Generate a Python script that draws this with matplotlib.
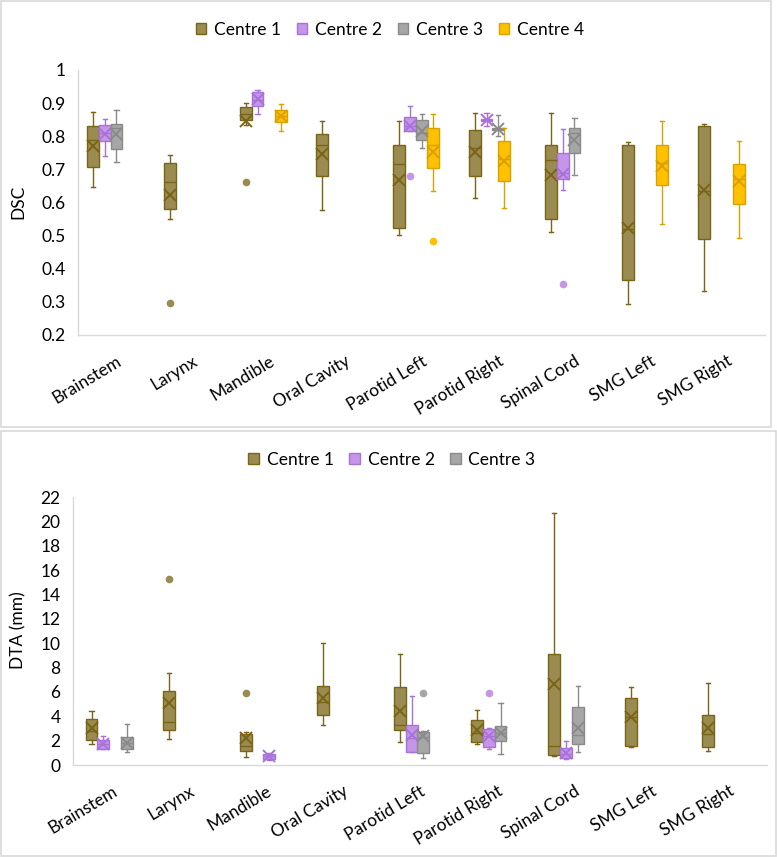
import matplotlib
matplotlib.use("Agg")
import matplotlib.pyplot as plt
from matplotlib.patches import Patch, Rectangle

plt.rcParams["font.family"] = ["Lato", "DejaVu Sans"]

ORGANS = ["Brainstem", "Larynx", "Mandible", "Oral Cavity", "Parotid Left",
          "Parotid Right", "Spinal Cord", "SMG Left", "SMG Right"]
CENTRES = ["Centre 1", "Centre 2", "Centre 3", "Centre 4"]

# box stats per organ: (whisker low, q1, median, q3, whisker high, mean), None = no data
dsc_c1 = [(0.647, 0.707, 0.789, 0.830, 0.873, 0.771),
          (0.551, 0.580, 0.661, 0.719, 0.742, 0.624),
          (0.835, 0.848, 0.867, 0.888, 0.900, 0.845),
          (0.577, 0.679, 0.773, 0.808, 0.845, 0.746),
          (0.501, 0.522, 0.716, 0.774, 0.845, 0.667),
          (0.614, 0.679, 0.765, 0.819, 0.870, 0.751),
          (0.512, 0.551, 0.729, 0.774, 0.870, 0.684),
          (0.293, 0.365, 0.520, 0.774, 0.783, 0.522),
          (0.332, 0.489, 0.635, 0.830, 0.837, 0.639)]
dsc_c2 = [(0.741, 0.786, 0.810, 0.834, 0.852, 0.807),
          None,
          (0.867, 0.890, 0.910, 0.933, 0.940, 0.912),
          None,
          (0.815, 0.815, 0.830, 0.859, 0.892, 0.830),
          (0.830, 0.845, 0.848, 0.852, 0.870, 0.848),
          (0.639, 0.672, 0.690, 0.749, 0.822, 0.686),
          None,
          None]
dsc_c3 = [(0.723, 0.762, 0.825, 0.837, 0.878, 0.807),
          None, None, None,
          (0.765, 0.789, 0.810, 0.848, 0.867, 0.817),
          (0.800, 0.818, 0.822, 0.826, 0.865, 0.822),
          (0.683, 0.749, 0.810, 0.826, 0.855, 0.789),
          None, None]
dsc_c4 = [None, None,
          (0.815, 0.843, 0.860, 0.878, 0.897, 0.860),
          None,
          (0.636, 0.704, 0.774, 0.826, 0.867, 0.753),
          (0.584, 0.664, 0.730, 0.786, 0.825, 0.724),
          None,
          (0.534, 0.653, 0.720, 0.774, 0.845, 0.709),
          (0.494, 0.595, 0.670, 0.716, 0.786, 0.664)]
dsc_c1_out = [[], [0.296], [0.661], [], [], [], [], [], []]
dsc_c2_out = [[], [], [], [], [0.679], [], [0.355], [], []]
dsc_c3_out = [[] for _ in ORGANS]
dsc_c4_out = [[], [], [], [], [0.483], [], [], [], []]

dta_c1 = [(1.70, 2.05, 2.80, 3.80, 4.43, 3.01),
          (2.11, 2.87, 3.50, 6.10, 7.53, 5.12),
          (0.68, 1.15, 1.60, 2.52, 2.68, 2.19),
          (3.28, 4.08, 5.20, 6.49, 9.99, 5.47),
          (1.91, 2.87, 3.28, 6.38, 9.09, 4.46),
          (1.70, 1.86, 2.60, 3.69, 4.52, 2.87),
          (0.75, 0.79, 1.59, 9.09, 20.66, 6.63),
          (1.50, 1.56, 3.90, 5.47, 6.38, 3.97),
          (1.18, 1.45, 2.55, 4.08, 6.70, 3.07)]
dta_c2 = [(1.29, 1.29, 1.70, 2.05, 2.38, 1.70),
          None,
          (0.45, 0.50, 0.70, 0.90, 0.98, 0.70),
          None,
          (1.09, 1.09, 2.20, 3.28, 5.69, 2.46),
          (1.29, 1.45, 2.40, 2.95, 3.01, 2.38),
          (0.50, 0.55, 0.90, 1.37, 2.00, 0.96),
          None, None]
dta_c3 = [(1.09, 1.29, 1.80, 2.33, 3.39, 1.78),
          None, None, None,
          (0.60, 0.96, 2.30, 2.68, 2.82, 2.38),
          (0.90, 1.97, 2.60, 3.20, 5.12, 2.60),
          (1.09, 1.70, 2.46, 4.79, 6.49, 3.07),
          None, None]
dta_c1_out = [[], [15.27], [5.89], [], [], [], [], [], []]
dta_c2_out = [[], [], [], [], [], [5.89], [], [], []]
dta_c3_out = [[], [], [], [], [5.89], [], [], [], []]

FILLS = ["#9A8B50", "#C596E8", "#A6A6A6", "#FFC000"]
EDGES = ["#7A6416", "#A872D8", "#8A8A8A", "#D9A200"]

W, H = 777, 857
fig = plt.figure(figsize=(W / 100, H / 100), dpi=100)


def px_axes(left, top, right, bottom):
    return fig.add_axes([left / W, 1 - bottom / H, (right - left) / W, (bottom - top) / H])


def draw_panel(ax, series, outliers, first, step, width, slot_fix=None):
    slot_fix = slot_fix or {}
    for s, (stats, outs) in enumerate(zip(series, outliers)):
        boxes, pos = [], []
        for i, st in enumerate(stats):
            if st is None:
                continue
            lo, q1, med, q3, hi, mean = st
            boxes.append(dict(whislo=lo, q1=q1, med=med, q3=q3, whishi=hi,
                              mean=mean, fliers=outs[i]))
            slot = slot_fix.get((s, i), s)
            pos.append(i + first + slot * step)
        ec, fc = EDGES[s], FILLS[s]
        ax.bxp(boxes, positions=pos, widths=width, capwidths=width * 0.35,
               patch_artist=True, showmeans=True, manage_ticks=False,
               boxprops=dict(facecolor=fc, edgecolor=ec, linewidth=1.0),
               whiskerprops=dict(color=ec, linewidth=1.0),
               capprops=dict(color=ec, linewidth=1.0),
               medianprops=dict(color=ec, linewidth=1.0),
               meanprops=dict(marker="x", markeredgecolor=ec, markersize=8.5,
                              markeredgewidth=1.4),
               flierprops=dict(marker="o", markerfacecolor=fc,
                               markeredgecolor=fc, markersize=4.5))
    ax.set_xlim(0, len(ORGANS))
    ax.set_xticks([i + 0.5 for i in range(len(ORGANS))])
    ax.set_xticklabels(ORGANS, rotation=31, ha="right", rotation_mode="anchor",
                       fontsize=12.5)
    ax.tick_params(axis="both", length=0, labelsize=12.5)
    ax.tick_params(axis="x", pad=13)
    ax.tick_params(axis="y", pad=9)
    for side in ("top", "right"):
        ax.spines[side].set_visible(False)
    for side in ("left", "bottom"):
        ax.spines[side].set_color("#D9D9D9")
        ax.spines[side].set_linewidth(1)


# panel frames
fig.add_artist(Rectangle((1 / W, 1 - 427 / H), 770 / W, 426 / H, transform=fig.transFigure,
                         fill=False, edgecolor="#D9D9D9", linewidth=1.2))
fig.add_artist(Rectangle((1 / W, 1 - 856 / H), 775 / W, 425 / H, transform=fig.transFigure,
                         fill=False, edgecolor="#D9D9D9", linewidth=1.2))

# DSC panel
ax1 = px_axes(78, 70, 765, 335)
draw_panel(ax1, [dsc_c1, dsc_c2, dsc_c3, dsc_c4],
           [dsc_c1_out, dsc_c2_out, dsc_c3_out, dsc_c4_out],
           first=0.2, step=0.152, width=0.155, slot_fix={(3, 5): 2.5})
ax1.set_ylim(0.2, 1.0)
ax1.set_yticks([0.2, 0.3, 0.4, 0.5, 0.6, 0.7, 0.8, 0.9, 1.0])
ax1.set_yticklabels(["0.2", "0.3", "0.4", "0.5", "0.6", "0.7", "0.8", "0.9", "1"])
fig.text(18 / W, 1 - 202 / H, "DSC", rotation=90, ha="center", va="center", fontsize=12.5)

# DTA panel (Centre 2 Mandible and Centre 3 Brainstem sit one slot further right)
ax2 = px_axes(73, 497, 767, 765)
draw_panel(ax2, [dta_c1, dta_c2, dta_c3],
           [dta_c1_out, dta_c2_out, dta_c3_out],
           first=0.24, step=0.152, width=0.155,
           slot_fix={(1, 2): 2, (2, 0): 3})
ax2.set_ylim(0, 22)
ax2.set_yticks(range(0, 23, 2))
fig.text(18 / W, 1 - 630 / H, "DTA (mm)", rotation=90, ha="center", va="center",
         fontsize=12.5)

handles = [Patch(facecolor=FILLS[k], edgecolor=EDGES[k], label=CENTRES[k]) for k in range(4)]
legend_kw = dict(loc="center", frameon=False, fontsize=12.5, handlelength=0.6,
                 handleheight=0.6, handletextpad=0.45, columnspacing=0.9)
fig.legend(handles=handles, ncol=4, bbox_to_anchor=(390 / W, 1 - 30 / H), **legend_kw)
fig.legend(handles=handles[:3], ncol=3, bbox_to_anchor=(392 / W, 1 - 460 / H), **legend_kw)

fig.savefig("out.png", dpi=100, facecolor="white")
